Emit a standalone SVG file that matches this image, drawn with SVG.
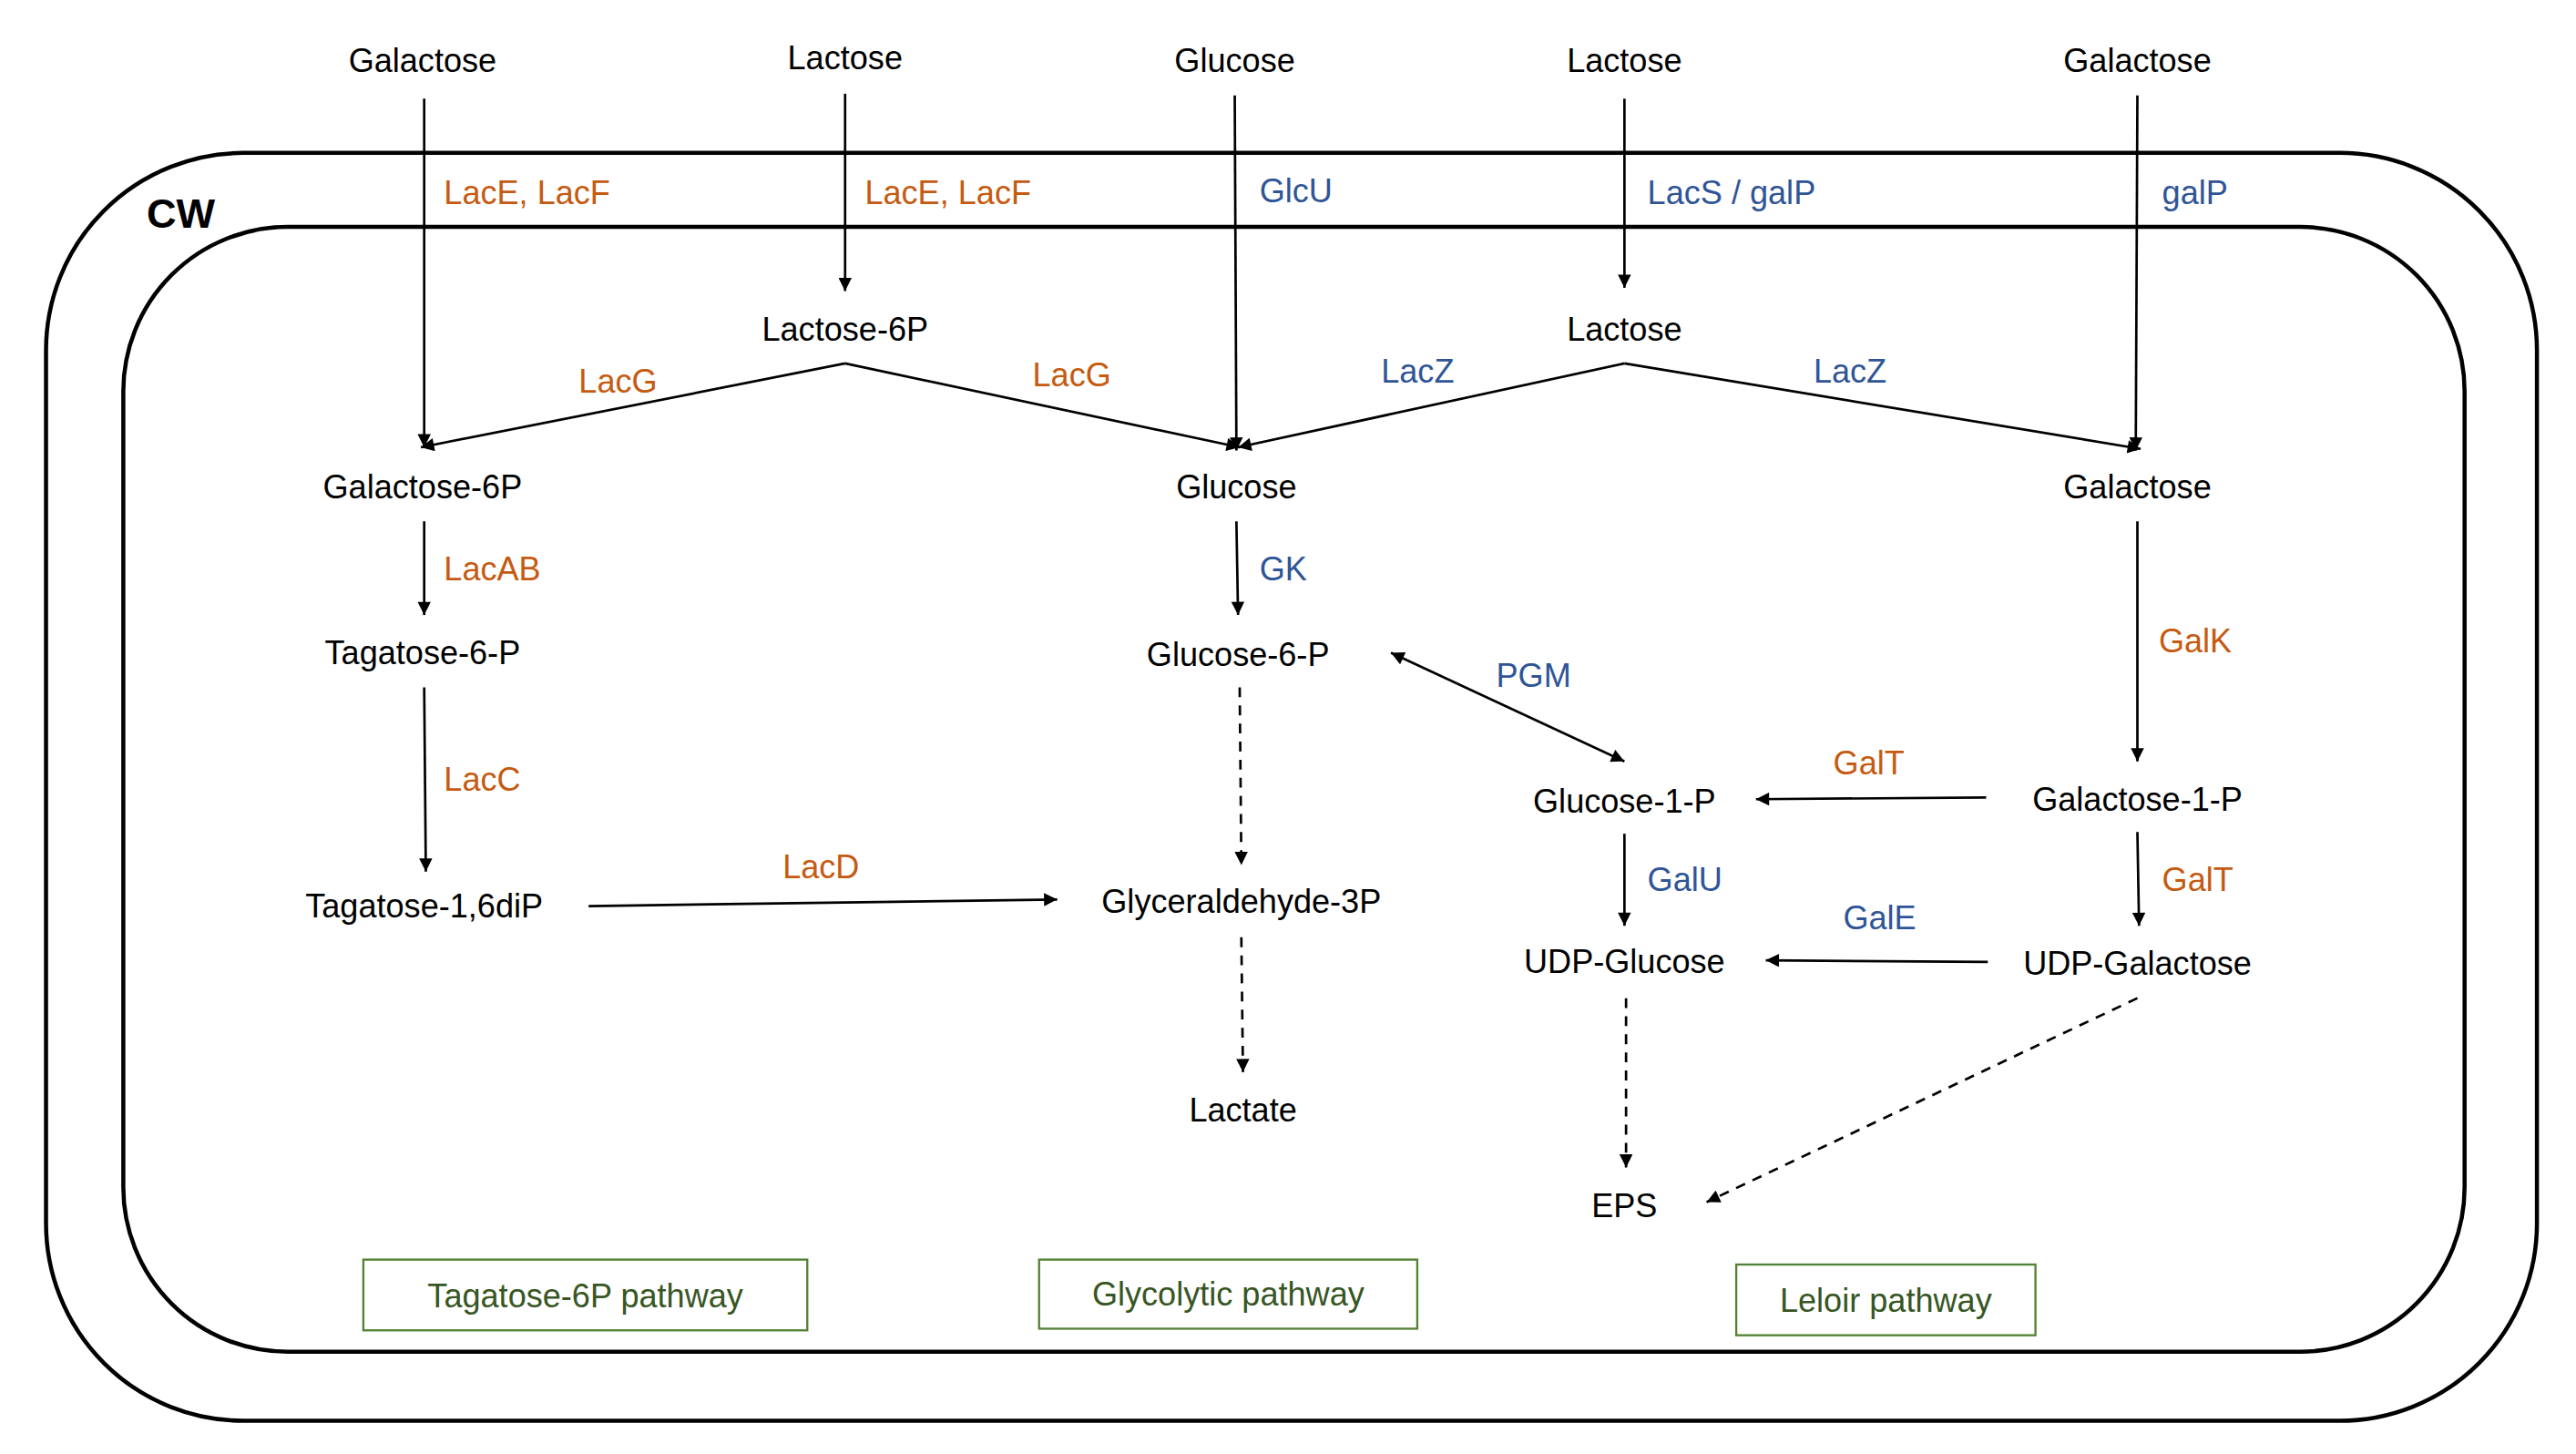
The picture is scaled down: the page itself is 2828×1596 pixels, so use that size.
<svg xmlns="http://www.w3.org/2000/svg" width="2828" height="1596" viewBox="0 0 2828 1596">
<style>
.n{font-family:"Liberation Sans",Arial,sans-serif;font-size:20px;fill:#000;text-anchor:middle;dominant-baseline:central}
.o{font-family:"Liberation Sans",Arial,sans-serif;font-size:20px;fill:#C55A11;dominant-baseline:central}
.b{font-family:"Liberation Sans",Arial,sans-serif;font-size:20px;fill:#2F5597;dominant-baseline:central}
.g{font-family:"Liberation Sans",Arial,sans-serif;font-size:20px;fill:#375623;text-anchor:middle;dominant-baseline:central}
.pb{fill:none;stroke:#548235;stroke-width:1.3}
.c line{stroke:#000;stroke-width:1.5;fill:none}
.c .d{stroke-dasharray:6,5}
.wall{fill:none;stroke:#000;stroke-width:2.5}
</style>
<defs>
<marker id="a" viewBox="0 0 10 10" refX="10" refY="5" markerWidth="10" markerHeight="8" markerUnits="userSpaceOnUse" orient="auto-start-reverse"><path d="M0,0 L10,5 L0,10 z" fill="#000"/></marker>
</defs>
<rect width="2828" height="1596" fill="#fff"/>
<g transform="scale(1.805)">
<g id="cellwall">
<rect class="wall" x="28" y="93" width="1515" height="771" rx="120" ry="120"/>
<rect class="wall" x="75" y="138" width="1424" height="684" rx="100" ry="100"/>
<text x="110" y="130" style="font-family:'Liberation Sans',Arial,sans-serif;font-size:25px;font-weight:bold;text-anchor:middle;dominant-baseline:central">CW</text>
</g>
<g class="c" id="connectors">
<line x1="258" y1="60" x2="258" y2="272" marker-end="url(#a)"/>
<line x1="514" y1="57" x2="514" y2="177" marker-end="url(#a)"/>
<line x1="751" y1="58" x2="752" y2="274" marker-end="url(#a)"/>
<line x1="988" y1="60" x2="988" y2="175" marker-end="url(#a)"/>
<line x1="1300" y1="58" x2="1299" y2="274" marker-end="url(#a)"/>
<line x1="514" y1="221" x2="256" y2="272" marker-end="url(#a)"/>
<line x1="514" y1="221" x2="754" y2="272" marker-end="url(#a)"/>
<line x1="988" y1="221" x2="753" y2="272" marker-end="url(#a)"/>
<line x1="988" y1="221" x2="1302" y2="273" marker-end="url(#a)"/>
<line x1="258" y1="317" x2="258" y2="374" marker-end="url(#a)"/>
<line x1="752" y1="317" x2="753" y2="374" marker-end="url(#a)"/>
<line x1="258" y1="418" x2="259" y2="530" marker-end="url(#a)"/>
<line x1="1300" y1="317" x2="1300" y2="463" marker-end="url(#a)"/>
<line x1="846" y1="397" x2="988" y2="463" marker-start="url(#a)" marker-end="url(#a)"/>
<line class="d" x1="754" y1="418" x2="755" y2="526" marker-end="url(#a)"/>
<line class="d" x1="755" y1="570" x2="756" y2="652" marker-end="url(#a)"/>
<line x1="358" y1="551" x2="643" y2="547" marker-end="url(#a)"/>
<line x1="1208" y1="485" x2="1068" y2="486" marker-end="url(#a)"/>
<line x1="988" y1="507" x2="988" y2="563" marker-end="url(#a)"/>
<line x1="1300" y1="506" x2="1301" y2="563" marker-end="url(#a)"/>
<line x1="1209" y1="585" x2="1074" y2="584" marker-end="url(#a)"/>
<line class="d" x1="989" y1="607" x2="989" y2="710" marker-end="url(#a)"/>
<line class="d" x1="1300" y1="607" x2="1038" y2="731" marker-end="url(#a)"/>
</g>
<g id="n-galactose-top1"><text class="n" x="257" y="37">Galactose</text></g>
<g id="n-lactose-top1"><text class="n" x="514" y="35">Lactose</text></g>
<g id="n-glucose-top"><text class="n" x="751" y="37">Glucose</text></g>
<g id="n-lactose-top2"><text class="n" x="988" y="37">Lactose</text></g>
<g id="n-galactose-top2"><text class="n" x="1300" y="37">Galactose</text></g>
<g id="n-lactose6p"><text class="n" x="514" y="200">Lactose-6P</text></g>
<g id="n-lactose-in"><text class="n" x="988" y="200">Lactose</text></g>
<g id="n-galactose6p"><text class="n" x="257" y="296">Galactose-6P</text></g>
<g id="n-glucose-in"><text class="n" x="752" y="296">Glucose</text></g>
<g id="n-galactose-in"><text class="n" x="1300" y="296">Galactose</text></g>
<g id="n-tagatose6p"><text class="n" x="257" y="397">Tagatose-6-P</text></g>
<g id="n-glucose6p"><text class="n" x="753" y="398">Glucose-6-P</text></g>
<g id="n-glucose1p"><text class="n" x="988" y="487">Glucose-1-P</text></g>
<g id="n-galactose1p"><text class="n" x="1300" y="486">Galactose-1-P</text></g>
<g id="n-tagatose16dip"><text class="n" x="258" y="551">Tagatose-1,6diP</text></g>
<g id="n-glyceraldehyde3p"><text class="n" x="755" y="548">Glyceraldehyde-3P</text></g>
<g id="n-udpglucose"><text class="n" x="988" y="585">UDP-Glucose</text></g>
<g id="n-udpgalactose"><text class="n" x="1300" y="586">UDP-Galactose</text></g>
<g id="n-lactate"><text class="n" x="756" y="675">Lactate</text></g>
<g id="n-eps"><text class="n" x="988" y="733">EPS</text></g>
<g id="labels">
<text class="o" x="270" y="117">LacE, LacF</text>
<text class="o" x="526" y="117">LacE, LacF</text>
<text class="b" x="766" y="116">GlcU</text>
<text class="b" x="1002" y="117">LacS / galP</text>
<text class="b" x="1315" y="117">galP</text>
<text class="o" x="352" y="232">LacG</text>
<text class="o" x="628" y="228">LacG</text>
<text class="b" x="840" y="226">LacZ</text>
<text class="b" x="1103" y="226">LacZ</text>
<text class="o" x="270" y="346">LacAB</text>
<text class="b" x="766" y="346">GK</text>
<text class="o" x="1313" y="390">GalK</text>
<text class="b" x="910" y="411">PGM</text>
<text class="o" x="270" y="474">LacC</text>
<text class="o" x="476" y="527">LacD</text>
<text class="o" x="1115" y="464">GalT</text>
<text class="b" x="1002" y="535">GalU</text>
<text class="o" x="1315" y="535">GalT</text>
<text class="b" x="1121" y="558">GalE</text>
</g>
<g id="p-tagatose"><rect class="pb" x="221" y="766" width="270" height="43"/><text class="g" x="356" y="788">Tagatose-6P pathway</text></g>
<g id="p-glycolytic"><rect class="pb" x="632" y="766" width="230" height="42"/><text class="g" x="747" y="787">Glycolytic pathway</text></g>
<g id="p-leloir"><rect class="pb" x="1056" y="769" width="182" height="43"/><text class="g" x="1147" y="791">Leloir pathway</text></g>
</g>
</svg>
